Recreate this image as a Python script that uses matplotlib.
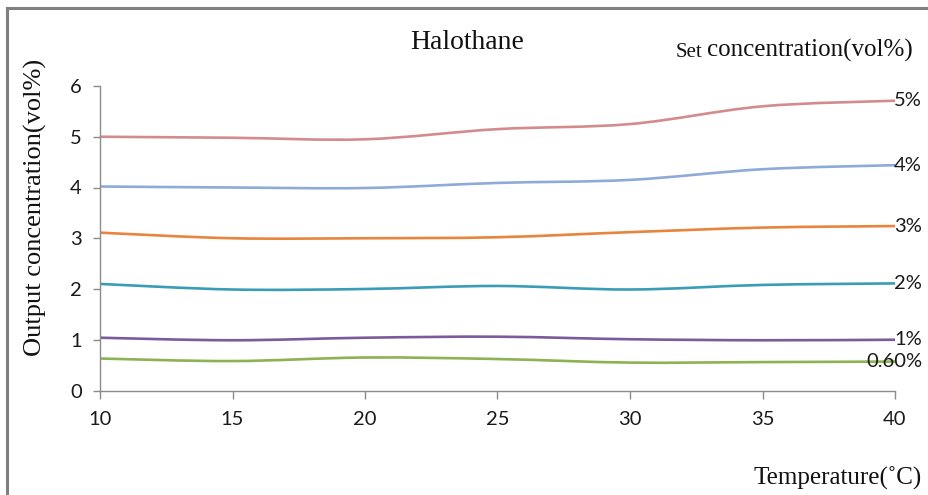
import matplotlib
matplotlib.use("Agg")
import matplotlib.pyplot as plt
import numpy as np
from matplotlib.path import Path
from matplotlib.patches import PathPatch
from matplotlib.lines import Line2D

# Temperatures (°C) and measured output concentrations (vol%) per set concentration
temperature = [10, 15, 20, 25, 30, 35, 40]
out_5 = [5.00, 4.98, 4.95, 5.15, 5.25, 5.60, 5.71]
out_4 = [4.02, 4.00, 3.99, 4.09, 4.15, 4.36, 4.44]
out_3 = [3.11, 3.00, 3.00, 3.02, 3.12, 3.21, 3.24]
out_2 = [2.10, 1.99, 2.00, 2.06, 1.99, 2.08, 2.11]
out_1 = [1.04, 0.99, 1.04, 1.06, 1.01, 0.99, 1.00]
out_06 = [0.63, 0.58, 0.65, 0.62, 0.55, 0.56, 0.57]

series_labels = ["5%", "4%", "3%", "2%", "1%", "0.60%"]
series_values = [out_5, out_4, out_3, out_2, out_1, out_06]
series_colors = ["#D38B8D", "#8FAAD9", "#E8843C", "#3A9CB6", "#7B5B9B", "#8CB252"]

y_ticks = [0, 1, 2, 3, 4, 5, 6]
x_ticks = [10, 15, 20, 25, 30, 35, 40]

SERIF = ["Liberation Serif", "DejaVu Serif"]
SANS = ["Lato", "DejaVu Sans"]

W, H = 929, 495
fig = plt.figure(figsize=(W / 100, H / 100), dpi=100)
ax = fig.add_axes([100 / W, 1 - 390.5 / H, (895 - 100) / W, (390.5 - 86) / H])


def smooth_path(xs, ys):
    """Cubic Bezier path through the points (Catmull-Rom style tangents)."""
    pts = np.column_stack([xs, ys]).astype(float)
    n = len(pts)
    verts = [pts[0]]
    codes = [Path.MOVETO]
    for i in range(n - 1):
        p0 = pts[i - 1] if i > 0 else pts[i]
        p1 = pts[i]
        p2 = pts[i + 1]
        p3 = pts[i + 2] if i + 2 < n else pts[i + 1]
        c1 = p1 + (p2 - p0) / 6.0
        c2 = p2 - (p3 - p1) / 6.0
        verts += [c1, c2, p2]
        codes += [Path.CURVE4] * 3
    return Path(verts, codes)


for label, vals, color in zip(series_labels, series_values, series_colors):
    patch = PathPatch(smooth_path(temperature, vals), facecolor="none",
                      edgecolor=color, lw=1.9, transform=ax.transData,
                      capstyle="butt", joinstyle="round")
    ax.add_patch(patch)
    ax.annotate(label, xy=(temperature[-1], vals[-1]), xytext=(19.5, 0),
                textcoords="offset points", ha="right", va="center",
                fontsize=14.5, family=SANS, color="#1a1a1a",
                annotation_clip=False)

ax.set_xlim(10, 40)
ax.set_ylim(0, 6)
ax.set_xticks(x_ticks)
ax.set_yticks(y_ticks)
ax.set_xticklabels([str(t) for t in x_ticks], family=SANS, fontsize=14.5)
ax.set_yticklabels([str(t) for t in y_ticks], family=SANS, fontsize=14.5)
for s in ["top", "right"]:
    ax.spines[s].set_visible(False)
for s in ["left", "bottom"]:
    ax.spines[s].set_color("#8c8c8c")
    ax.spines[s].set_linewidth(1.0)
ax.tick_params(axis="y", direction="out", length=5, width=1, color="#8c8c8c",
               pad=8, labelcolor="#1a1a1a")
ax.tick_params(axis="x", direction="out", length=6, width=1, color="#8c8c8c",
               pad=9, labelcolor="#1a1a1a")

# Titles and axis captions
fig.text(467 / W, 1 - 49 / H, "Halothane", family=SERIF, fontsize=20,
         ha="center", va="baseline", color="#111111")
fig.text(35 / W, 1 - 207 / H, "Output concentration(vol%)", family=SERIF,
         fontsize=19, rotation=90, ha="center", va="center", color="#111111")
fig.text(922 / W, 1 - 485 / H, "Temperature(\u02daC)", family=SERIF,
         fontsize=18, ha="right", va="baseline", color="#111111")

conc = fig.text(913 / W, 1 - 57 / H, "concentration(vol%)", family=SERIF,
                fontsize=18, ha="right", va="baseline", color="#111111")
fig.canvas.draw()
bb = conc.get_window_extent()
fig.text((bb.x0 - 5) / W, 1 - 57 / H, "Set", family=SERIF, fontsize=15,
         ha="right", va="baseline", color="#111111")

# Outer frame of the chart area
frame_kw = dict(color="#808080", lw=2.2, transform=fig.transFigure)
fig.add_artist(Line2D([7 / W, 7 / W], [0, 1 - 8 / H], **frame_kw))
fig.add_artist(Line2D([7 / W, 1], [1 - 8 / H, 1 - 8 / H], **frame_kw))

fig.savefig("out.png", dpi=100)
